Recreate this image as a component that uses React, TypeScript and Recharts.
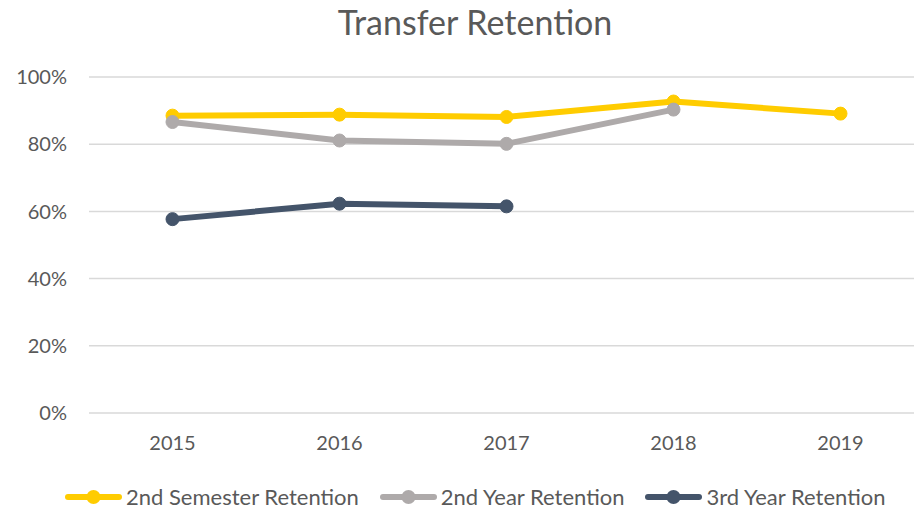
import React from 'react';
import { LineChart, Line, XAxis, YAxis, CartesianGrid, Legend } from 'recharts';

const years = ['2015', '2016', '2017', '2018', '2019'];
const secondSemester = [0.885, 0.888, 0.881, 0.927, 0.891];
const secondYear = [0.866, 0.811, 0.801, 0.903, null];
const thirdYear = [0.577, 0.623, 0.615, null, null];
const yTicks = [0, 0.2, 0.4, 0.6, 0.8, 1];
const seriesNames = ['2nd Semester Retention', '2nd Year Retention', '3rd Year Retention'];
const seriesColors = ['#FFCC00', '#AEAAAA', '#44546A'];
const titleText = 'Transfer Retention';

const data = years.map((y, i) => ({
  year: y,
  s1: secondSemester[i],
  s2: secondYear[i],
  s3: thirdYear[i],
}));

const FONT = 'Lato, "Open Sans", sans-serif';
const TEXT = '#595959';

const renderLegend = (props: any) => {
  const payload = props.payload || [];
  return (
    <div style={{ display: 'flex', alignItems: 'center', fontFamily: FONT, fontSize: 22, color: TEXT }}>
      {payload.map((p: any, i: number) => (
        <div key={i} style={{ display: 'flex', alignItems: 'center', marginRight: 21 }}>
          <svg width={57} height={18} style={{ marginRight: 4, display: 'block' }}>
            <line x1={3} y1={9} x2={54} y2={9} stroke={p.color} strokeWidth={6} strokeLinecap="round" />
            <circle cx={28.5} cy={9} r={7} fill={p.color} />
          </svg>
          <span style={{ lineHeight: '24px', whiteSpace: 'nowrap' }}>{p.value}</span>
        </div>
      ))}
    </div>
  );
};

export default function App() {
  const keys = ['s1', 's2', 's3'];
  return (
    <div style={{ position: 'absolute', left: 0, top: 0, width: 914, height: 511, overflow: 'hidden', background: '#fff' }}>
      <div
        style={{
          position: 'absolute',
          left: 0,
          width: 950,
          top: 0,
          textAlign: 'center',
          fontFamily: FONT,
          fontSize: 34,
          color: TEXT,
          lineHeight: '44px',
        }}
      >
        {titleText}
      </div>
      <LineChart
        width={930}
        height={511}
        data={data}
        margin={{ top: 77, right: 6, bottom: 0, left: 0 }}
        style={{ position: 'absolute', left: 0, top: 0 }}
      >
        <CartesianGrid vertical={false} stroke="#D9D9D9" strokeWidth={1.5} />
        <XAxis
          dataKey="year"
          axisLine={false}
          tickLine={false}
          tickSize={6}
          tickMargin={17}
          height={98}
          padding={{ left: 83.5, right: 83.5 }}
          tick={{ fill: TEXT, fontSize: 20, fontFamily: FONT }}
        />
        <YAxis
          domain={[0, 1]}
          ticks={yTicks}
          width={89}
          axisLine={false}
          tickLine={false}
          tickSize={6}
          tickMargin={16}
          tickFormatter={(v: number) => `${Math.round(v * 100)}%`}
          tick={{ fill: TEXT, fontSize: 20, fontFamily: FONT }}
        />
        <Legend
          layout="horizontal"
          verticalAlign="middle"
          align="center"
          content={renderLegend}
          wrapperStyle={{ left: 65, top: 485, width: 880 }}
        />
        {keys.map((k, i) => (
          <Line
            key={k}
            dataKey={k}
            name={seriesNames[i]}
            stroke={seriesColors[i]}
            strokeWidth={6}
            strokeLinejoin="round"
            dot={{ r: 6.5, fill: seriesColors[i], stroke: seriesColors[i], strokeWidth: 1 }}
            activeDot={false}
            isAnimationActive={false}
            connectNulls={false}
          />
        ))}
      </LineChart>
    </div>
  );
}
